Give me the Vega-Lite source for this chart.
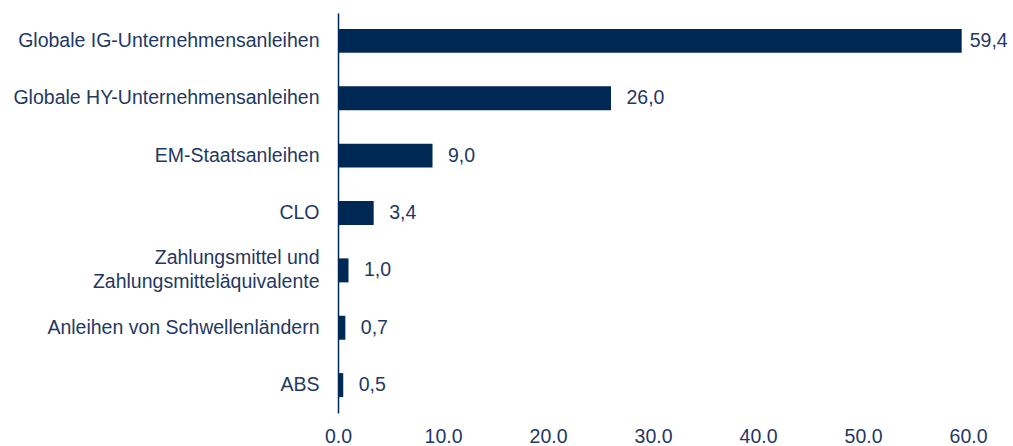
{
  "$schema": "https://vega.github.io/schema/vega-lite/v6.json",
  "autosize": "none",
  "width": 630,
  "height": 400,
  "padding": {"left": 338, "top": 13, "right": 45, "bottom": 33},
  "background": "white",
  "config": {
    "view": {"stroke": null},
    "font": "Liberation Sans",
    "locale": {"number": {"decimal": ",", "thousands": ".", "grouping": [3], "currency": ["", " €"]}}
  },
  "data": {
    "values": [
      {"kategorie": "Globale IG-Unternehmensanleihen", "wert": 59.4},
      {"kategorie": "Globale HY-Unternehmensanleihen", "wert": 26.0},
      {"kategorie": "EM-Staatsanleihen", "wert": 9.0},
      {"kategorie": "CLO", "wert": 3.4},
      {"kategorie": "Zahlungsmittel und Zahlungsmitteläquivalente", "wert": 1.0},
      {"kategorie": "Anleihen von Schwellenländern", "wert": 0.7},
      {"kategorie": "ABS", "wert": 0.5}
    ]
  },
  "encoding": {
    "y": {
      "field": "kategorie",
      "type": "nominal",
      "sort": null,
      "scale": {"paddingInner": 0.582, "paddingOuter": 0.277},
      "axis": {
        "title": null,
        "ticks": false,
        "domainColor": "#002855",
        "domainWidth": 1.5,
        "labelFontSize": 19.5,
        "labelColor": "#1F3864",
        "labelPadding": 19,
        "labelLimit": 400,
        "labelLineHeight": 24,
        "labelOffset": {"condition": {"test": "datum.value == 'Zahlungsmittel und Zahlungsmitteläquivalente'", "value": -12}, "value": 0},
        "labelExpr": "datum.value == 'Zahlungsmittel und Zahlungsmitteläquivalente' ? ['Zahlungsmittel und', 'Zahlungsmitteläquivalente'] : datum.value"
      }
    },
    "x": {
      "field": "wert",
      "type": "quantitative",
      "scale": {"domain": [0, 60], "nice": false},
      "axis": {
        "title": null,
        "values": [0, 10, 20, 30, 40, 50, 60],
        "format": ".1f",
        "labelExpr": "replace(datum.label, ',', '.')",
        "grid": false,
        "domain": false,
        "ticks": false,
        "labelFontSize": 19.5,
        "labelColor": "#1F3864",
        "labelPadding": 14,
        "labelFlush": false,
        "labelOverlap": false
      }
    }
  },
  "layer": [
    {"mark": {"type": "bar", "color": "#002855"}},
    {
      "transform": [{"filter": "datum.wert < 50"}],
      "mark": {"type": "text", "align": "left", "baseline": "middle", "dx": 15.5, "fontSize": 19.5, "color": "#1F3864"},
      "encoding": {"text": {"field": "wert", "type": "quantitative", "format": ".1f"}}
    },
    {
      "transform": [{"filter": "datum.wert >= 50"}],
      "mark": {"type": "text", "align": "left", "baseline": "middle", "dx": 8, "fontSize": 19.5, "color": "#1F3864"},
      "encoding": {"text": {"field": "wert", "type": "quantitative", "format": ".1f"}}
    }
  ]
}
